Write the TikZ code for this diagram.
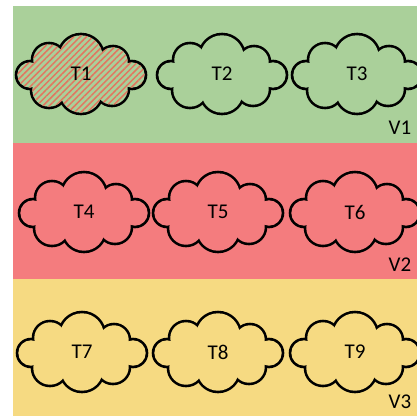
\documentclass[tikz,border=0pt]{standalone}
\usepackage{fontspec}
\setmainfont{Carlito}
\usetikzlibrary{patterns.meta}
\definecolor{bandgreen}{RGB}{170,208,154}
\definecolor{bandred}{RGB}{244,124,126}
\definecolor{bandyellow}{RGB}{246,218,130}
\definecolor{hatchred}{RGB}{226,118,96}
\tikzset{
  lbl/.style={font=\fontsize{21}{24}\selectfont, inner sep=0pt},
  hatchfill/.style={fill=bandgreen, postaction={pattern={Lines[angle=45,distance=4.5pt,line width=1.5pt]}, pattern color=hatchred}},
  pics/cloudshape/.style={code={
    \foreach \x/\y/\r in {-51/-1/14, -32/14/17, 0/17/23, 32/12/16, 51/-1/14, 31/-15/17, 0/-18/22, -32/-16/18}
      \fill[black] (\x,\y) circle[radius=\r pt+1.3pt];
    \foreach \x/\y/\r in {-51/-1/14, -32/14/17, 0/17/23, 32/12/16, 51/-1/14, 31/-15/17, 0/-18/22, -32/-16/18}
      \path[#1] (\x,\y) circle[radius=\r pt-1.3pt];
    \path[#1] (0,0) ellipse[x radius=45pt, y radius=22pt];
  }}
}
\begin{document}
\begin{tikzpicture}[x=1pt,y=1pt]
\useasboundingbox (0,0) rectangle (417,416);
\clip (0,0) rectangle (417,416);
\fill[white] (0,0) rectangle (417,416);
\fill[bandgreen] (13,273) rectangle (417,410);
\fill[bandred] (13,137) rectangle (417,273);
\fill[bandyellow] (13,0) rectangle (417,137);
% row 1
\pic at (81,342) {cloudshape={hatchfill}};
\pic at (222,342) {cloudshape={fill=bandgreen}};
\pic at (357,342) {cloudshape={fill=bandgreen}};
% row 2
\pic at (84,204) {cloudshape={fill=bandred}};
\pic at (218,204) {cloudshape={fill=bandred}};
\pic at (355,204) {cloudshape={fill=bandred}};
% row 3
\pic at (82,64) {cloudshape={fill=bandyellow}};
\pic at (218,64) {cloudshape={fill=bandyellow}};
\pic at (355,64) {cloudshape={fill=bandyellow}};
\node[lbl] (t1) at (81,342) {T1};
\node[lbl] (t2) at (222,342) {T2};
\node[lbl] (t3) at (357,342) {T3};
\node[lbl] (t4) at (84,204) {T4};
\node[lbl] (t5) at (218,204) {T5};
\node[lbl] (t6) at (355,204) {T6};
\node[lbl] (t7) at (82,64) {T7};
\node[lbl] (t8) at (218,64) {T8};
\node[lbl] (t9) at (355,64) {T9};
\node[lbl] (v1) at (400,288) {V1};
\node[lbl] (v2) at (400,151) {V2};
\node[lbl] (v3) at (400,14) {V3};
\end{tikzpicture}
\end{document}
